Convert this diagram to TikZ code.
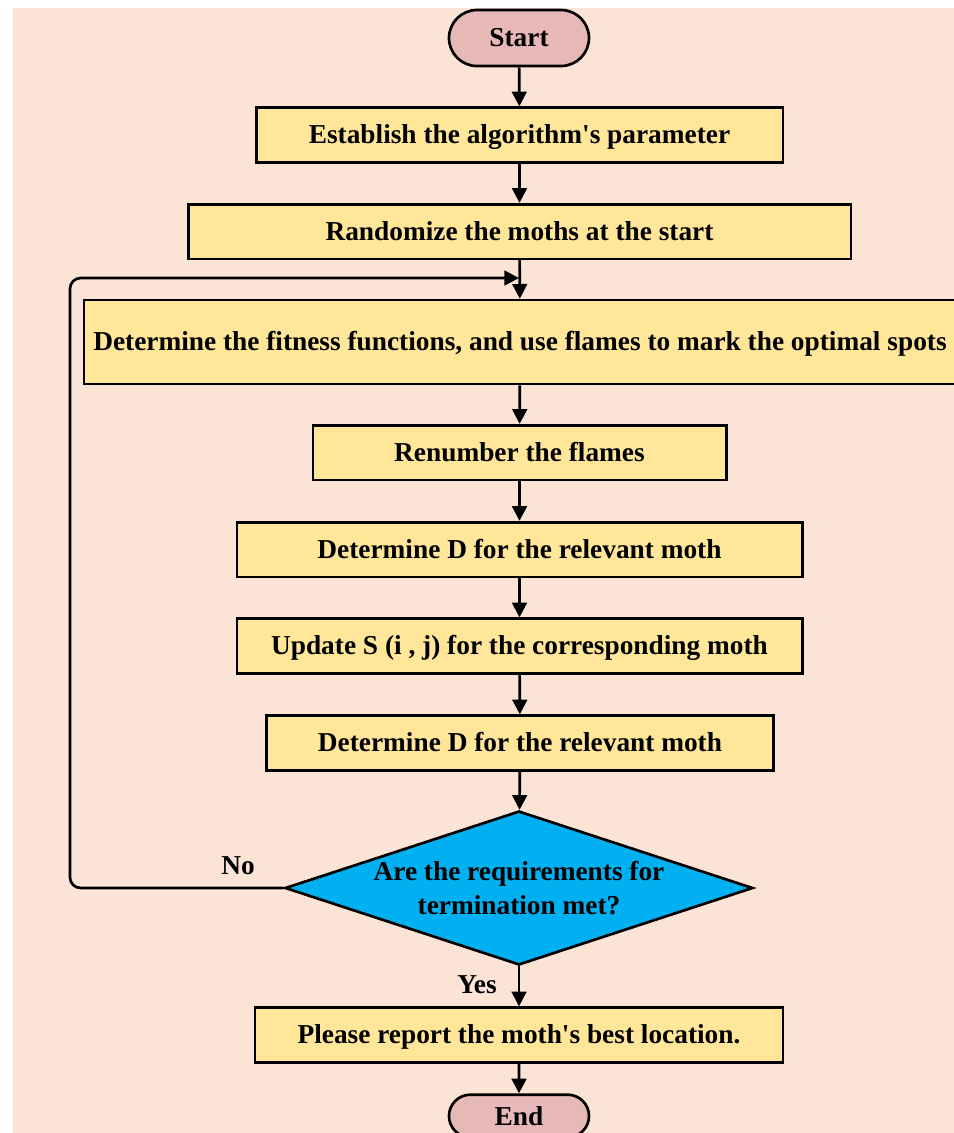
\documentclass[tikz,border=0pt]{standalone}
\usepackage{fontspec}
\setmainfont{Liberation Serif}
\usetikzlibrary{arrows.meta}
\usetikzlibrary{shapes.geometric, shapes.misc}

\definecolor{peach}{HTML}{FBE3D6}
\definecolor{boxyellow}{HTML}{FFE699}
\definecolor{termpink}{HTML}{E6B9B8}
\definecolor{decblue}{HTML}{00B0F0}

\tikzset{
  every node/.style={font=\bfseries\fontsize{20.5}{25}\selectfont},
  procbox/.style={draw, line width=2pt, fill=boxyellow, inner sep=0pt, minimum height=41pt, text depth=1pt},
  termbox/.style={rounded rectangle, draw, line width=2pt, fill=termpink, inner sep=0pt, minimum width=105pt},
  decision/.style={diamond, draw, line width=2pt, fill=decblue, inner sep=0pt, minimum width=351pt, minimum height=115.5pt},
  flow/.style={-{Triangle[length=11pt, width=11pt]}, line width=2pt}
}

\begin{document}
\begin{tikzpicture}[x=0.75pt, y=-0.75pt]
      \useasboundingbox (0,0) rectangle (954,1133);
      \fill[peach] (13,8) rectangle (954,1133);

      \node[termbox, minimum height=42pt] (start) at (519, 38) {Start};
      \node[procbox, minimum width=395pt] (1) at (519.5, 135) {Establish the algorithm{\textquotesingle}s parameter};
      \node[procbox, minimum width=497pt] (2) at (519.5, 231.5) {Randomize the moths at the start};
      \node[procbox, minimum width=654pt, minimum height=63pt] (3) at (520, 342) {Determine the fitness functions, and use flames to mark the optimal spots};
      \node[procbox, minimum width=310pt] (4) at (519.5, 452.5) {Renumber the flames};
      \node[procbox, minimum width=424pt] (5) at (519.5, 549.5) {Determine D for the relevant moth};
      \node[procbox, minimum width=424pt] (6) at (519.5, 646) {Update S (i , j) for the corresponding moth};
      \node[procbox, minimum width=380pt] (7) at (520, 743) {Determine D for the relevant moth};
      \node[decision, label={[align=center]center:Are the requirements for\\termination met?}] (dec) at (519, 888) {};
      \node[procbox, minimum width=396pt] (8) at (519, 1035) {Please report the moth{\textquotesingle}s best location.};
      \node[termbox, minimum height=32pt] (end) at (519, 1116) {End};

      \node (no) at (238, 866) {No};
      \node (yes) at (477, 985) {Yes};
      \coordinate (merge) at (519, 278);

      \draw[flow] (start) -- (1);
      \draw[flow] (1) -- (2);
      \draw[flow] (2) -- (3);
      \draw[flow] (3) -- (4);
      \draw[flow] (4) -- (5);
      \draw[flow] (5) -- (6);
      \draw[flow] (6) -- (7);
      \draw[flow] (7) -- (dec);
      \draw[flow] (dec) -- (8);
      \draw[flow] (8) -- (end);
      \draw[flow, rounded corners=8pt] (dec.west) -- (70, 888) -- (70, 278) -- (merge);
    \end{tikzpicture}
\end{document}
